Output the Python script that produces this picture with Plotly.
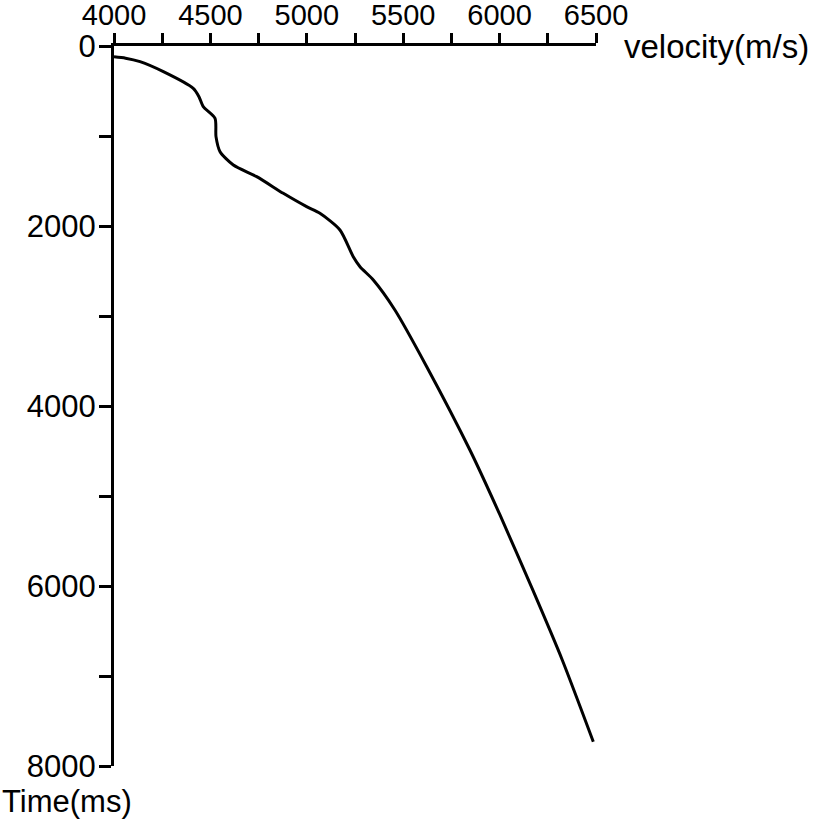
import plotly.graph_objects as go

# Velocity (m/s) vs time (ms)
velocity = [4000, 4060, 4135, 4256, 4411, 4440, 4463, 4524, 4529, 4550, 4619, 4740,
            4878, 4999, 5068, 5172, 5241, 5276, 5345, 5457, 5622, 5846,
            6002, 6172, 6325, 6486]
time_ms = [120, 135, 174, 285, 470, 560, 674, 803, 1007, 1174, 1322, 1452,
           1637, 1785, 1859, 2044, 2341, 2452, 2600, 2933, 3563, 4489,
           5211, 6044, 6822, 7730]

x_ticks = [4000, 4250, 4500, 4750, 5000, 5250, 5500, 5750, 6000, 6250, 6500]
x_labels = ["4000", "", "4500", "", "5000", "", "5500", "", "6000", "", "6500"]
y_ticks = [0, 1000, 2000, 3000, 4000, 5000, 6000, 7000, 8000]
y_labels = ["0", "", "2000", "", "4000", "", "6000", "", "8000"]

FONT = "Liberation Sans, Arial, sans-serif"

fig = go.Figure()
fig.add_trace(go.Scatter(x=velocity, y=time_ms, mode="lines",
                         line=dict(color="black", width=3, shape="spline", smoothing=0.7),
                         showlegend=False, hoverinfo="skip"))

fig.update_layout(
    width=823, height=820,
    margin=dict(l=114, r=227, t=46, b=54, autoexpand=False),
    paper_bgcolor="white", plot_bgcolor="white",
    font=dict(family=FONT, size=29, color="black"),
    xaxis=dict(range=[4000, 6500], side="top", showline=True, linecolor="black",
               linewidth=3, ticks="outside", ticklen=10, tickwidth=2.5,
               tickcolor="black", tickvals=x_ticks, ticktext=x_labels,
               showgrid=False, zeroline=False, automargin=False,
               tickfont=dict(size=29), ticklabelstandoff=-4),
    yaxis=dict(range=[8000, 0], showline=True, linecolor="black",
               linewidth=3, ticks="outside", ticklen=12, tickwidth=2.5,
               tickcolor="black", tickvals=y_ticks, ticktext=y_labels,
               showgrid=False, zeroline=False, automargin=False,
               tickfont=dict(size=31), ticklabelstandoff=-3),
    annotations=[
        dict(text="velocity(m/s)", xref="paper", yref="paper", x=1.0, y=1.0,
             xshift=26, xanchor="left", yanchor="middle", showarrow=False,
             font=dict(family=FONT, size=33, color="black")),
        dict(text="Time(ms)", xref="paper", yref="paper", x=0, y=0,
             xshift=-114, yshift=-35, xanchor="left", yanchor="middle", showarrow=False,
             font=dict(family=FONT, size=31, color="black")),
    ],
)

fig.write_html("out.html", config={"displayModeBar": False},
               post_script="document.body.style.margin='0';document.body.style.padding='0';")
